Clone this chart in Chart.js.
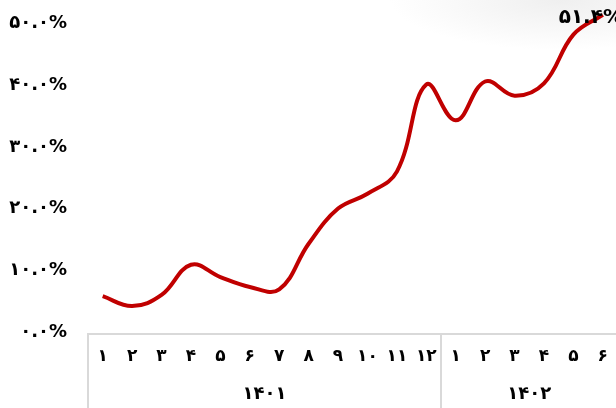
<!DOCTYPE html>
<html>
<head>
<meta charset="utf-8">
<script src="https://cdn.jsdelivr.net/npm/chart.js@4"></script>
<style>
  html, body { margin: 0; padding: 0; overflow: hidden; background: #fff; }
  #bg {
    position: absolute; left: 0; top: 0; width: 616px; height: 408px;
    background: radial-gradient(ellipse 170px 50px at 560px 0px, #efefef 0%, rgba(255,255,255,0) 100%);
  }
  #wrap { position: absolute; left: 0; top: -70px; width: 622px; height: 478px; }
</style>
</head>
<body>
<div id="bg"></div>
<div id="wrap"><canvas id="c" width="622" height="478"></canvas></div>
<script>
// months, grouped by year
const months = ['1','2','3','4','5','6','7','8','9','10','11','12','1','2','3','4','5','6'];
const years = ['1401', '1402'];
const yearSizes = [12, 6]; // months in each year group
// percent values
const values = [5.8, 4.2, 6.0, 10.9, 8.9, 7.3, 6.9, 14.3, 20.0, 22.4, 26.0, 40.1,
                34.3, 40.6, 38.3, 40.3, 48.2, 51.4];
const yTicks = [0, 10, 20, 30, 40, 50, 60];

const FONT = '"DejaVu Sans", sans-serif';

// latin digits -> persian digits
function toFa(s) {
  return String(s).replace(/[0-9]/g, d => '۰۱۲۳۴۵۶۷۸۹'[d]);
}

// draws the box under the plot, year names and the last value label
const extras = {
  id: 'extras',
  afterDraw(chart) {
    const ctx = chart.ctx;
    const x = chart.scales.x;
    const area = chart.chartArea;
    const top = area.bottom + 2;
    ctx.save();
    ctx.strokeStyle = '#d9d9d9';
    ctx.lineWidth = 2;
    ctx.beginPath();
    let start = 0;
    const edges = [start];
    for (const n of yearSizes) { start += n; edges.push(start); }
    ctx.moveTo(x.getPixelForValue(-0.5) - 1, top);
    ctx.lineTo(chart.width, top);
    for (const e of edges) {
      const px = x.getPixelForValue(e - 0.5);
      ctx.moveTo(px, top);
      ctx.lineTo(px, chart.height);
    }
    ctx.stroke();

    ctx.fillStyle = '#000';
    ctx.font = 'bold 18px ' + FONT;
    ctx.textAlign = 'center';
    ctx.textBaseline = 'middle';
    for (let i = 0; i < years.length; i++) {
      const a = x.getPixelForValue(edges[i] - 0.5);
      const b = x.getPixelForValue(edges[i + 1] - 0.5);
      ctx.fillText(toFa(years[i]), (a + b) / 2, chart.height - 14);
    }

    // label for the last point
    const meta = chart.getDatasetMeta(0);
    const last = meta.data[meta.data.length - 1];
    ctx.font = 'bold 20px ' + FONT;
    ctx.fillText(toFa(values[values.length - 1].toFixed(1)) + '%', last.x - 12, last.y + 3);
    ctx.restore();
  }
};

new Chart(document.getElementById('c'), {
  type: 'line',
  data: {
    labels: months.map(toFa),
    datasets: [{
      data: values,
      borderColor: '#c00000',
      borderWidth: 4,
      pointRadius: 0,
      tension: 0.4,
      fill: false
    }]
  },
  options: {
    responsive: false,
    animation: false,
    layout: { padding: 0 },
    plugins: { legend: { display: false }, tooltip: { enabled: false } },
    scales: {
      x: {
        offset: true,
        grid: { display: false, drawTicks: false },
        border: { display: false },
        ticks: {
          color: '#000',
          font: { family: FONT, size: 17, weight: 'bold' },
          maxRotation: 0,
          autoSkip: false,
          padding: 14
        },
        afterFit(scale) { scale.height = 76; }
      },
      y: {
        min: 0,
        max: 60,
        grid: { display: false, drawTicks: false },
        border: { display: false },
        afterBuildTicks(scale) { scale.ticks = yTicks.map(v => ({ value: v })); },
        ticks: {
          color: '#000',
          padding: 21,
          font: { family: FONT, size: 18, weight: 'bold' },
          callback: v => toFa(v.toFixed(1)) + '%'
        },
        afterFit(scale) { scale.width = 88; }
      }
    }
  },
  plugins: [extras]
});
</script>
</body>
</html>
